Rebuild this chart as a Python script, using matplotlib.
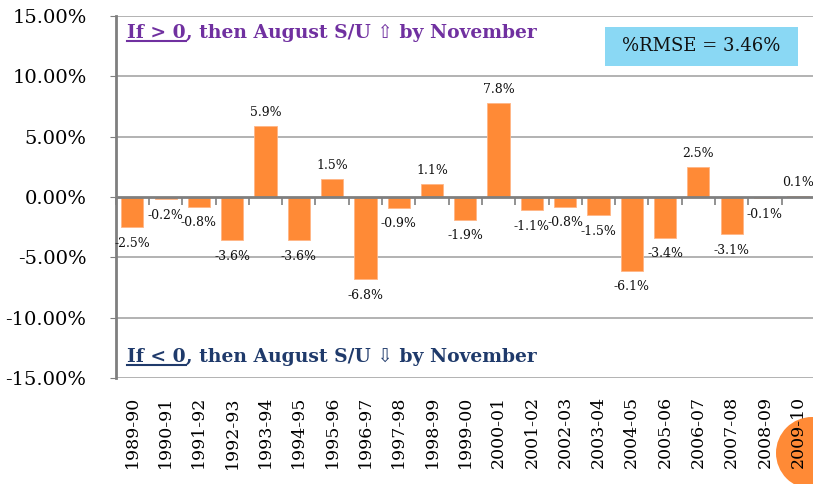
import matplotlib
matplotlib.use('Agg')
import matplotlib.pyplot as plt
import numpy as np
from matplotlib.patches import Circle, Rectangle
from matplotlib.lines import Line2D

plt.rcParams['font.family'] = ['DejaVu Serif', 'DejaVu Sans']

# ---- data ----
seasons = ['1989-90', '1990-91', '1991-92', '1992-93', '1993-94', '1994-95',
           '1995-96', '1996-97', '1997-98', '1998-99', '1999-00', '2000-01',
           '2001-02', '2002-03', '2003-04', '2004-05', '2005-06', '2006-07',
           '2007-08', '2008-09', '2009-10']
change_pct = [-2.5, -0.2, -0.8, -3.6, 5.9, -3.6, 1.5, -6.8, -0.9, 1.1, -1.9,
              7.8, -1.1, -0.8, -1.5, -6.1, -3.4, 2.5, -3.1, -0.1, 0.1]
y_ticks = [-15, -10, -5, 0, 5, 10, 15]
rmse_label = '%RMSE = 3.46%'
up_lead, up_rest = 'If > 0', ', then August S/U \u21e7 by November'
down_lead, down_rest = 'If < 0', ', then August S/U \u21e9 by November'

bar_color = '#FF8A36'
purple = '#7030A0'
navy = '#1F3A6B'

fig = plt.figure(figsize=(8.13, 4.84), dpi=100)
ax = fig.add_axes([0.1423, 0.219, 0.860, 0.748])
ax.set_facecolor('none')

x = np.arange(len(seasons))
ax.bar(x, change_pct, width=0.667, color=bar_color, edgecolor='#FFB585',
       linewidth=0.6, zorder=3)

# gridlines + zero line with category ticks
for v in y_ticks:
    if v != 0:
        ax.axhline(v, color='#A6A6A6', lw=1.2, zorder=1)
ax.axhline(0, color='#7F7F7F', lw=2, zorder=4)
bounds = np.arange(len(seasons) + 1) - 0.5
ax.plot(bounds, np.zeros_like(bounds), ls='', marker=3, ms=6, mew=1.2,
        color='#7F7F7F', zorder=4, clip_on=False)

for xi, v in zip(x, change_pct):
    off = 9.5 if v > 0 else -11.5
    ax.annotate('%.1f%%' % v, (xi, v), xytext=(0, off), textcoords='offset points',
                ha='center', va='center', fontsize=9, color='#111111', zorder=5)

ax.set_xlim(-0.5, len(seasons) - 0.5)
ax.set_ylim(-15, 15)
ax.set_yticks(y_ticks)
ax.set_yticklabels(['%.2f%%' % v for v in y_ticks], fontsize=14)
ax.set_xticks(x)
ax.set_xticklabels(seasons, rotation=90, fontsize=12.5)
ax.tick_params(axis='x', length=0, pad=13)
ax.tick_params(axis='y', length=4, color='#7F7F7F', pad=17)

for s in ['top', 'right', 'bottom']:
    ax.spines[s].set_visible(False)
ax.spines['left'].set_color('#7F7F7F')
ax.spines['left'].set_linewidth(2)

# headline texts with underlined lead
fig.canvas.draw()
renderer = fig.canvas.get_renderer()


def headline(x0, y0, lead, rest, color):
    t1 = fig.text(x0, y0, lead, fontsize=13.5, fontweight='bold', color=color,
                  va='baseline')
    bb = t1.get_window_extent(renderer)
    fig.text(bb.x1 / fig.bbox.width, y0, rest, fontsize=13.5, fontweight='bold',
             color=color, va='baseline')
    uy = (bb.y0 + 1) / fig.bbox.height
    fig.add_artist(Line2D([bb.x0 / fig.bbox.width, bb.x1 / fig.bbox.width], [uy, uy],
                          color=color, lw=1.5))


headline(127 / 813, 1 - 38 / 484, up_lead, up_rest, purple)
headline(127 / 813, 1 - 362 / 484, down_lead, down_rest, navy)

# RMSE box
fig.add_artist(Rectangle((605 / 813, 1 - 66 / 484), 193 / 813, 39 / 484,
                         transform=fig.transFigure, facecolor='#8AD8F4',
                         edgecolor='none', zorder=2))
fig.text(701 / 813, 1 - 46 / 484, rmse_label, fontsize=13, ha='center',
         va='center', color='#111111', zorder=3)

# decorative orange circle at bottom-right
fig.add_artist(Circle((8.12, 0.31), 0.36, transform=fig.dpi_scale_trans,
                      facecolor='#FF8A36', edgecolor='none', zorder=-1))

fig.savefig('out.png', dpi=100)
